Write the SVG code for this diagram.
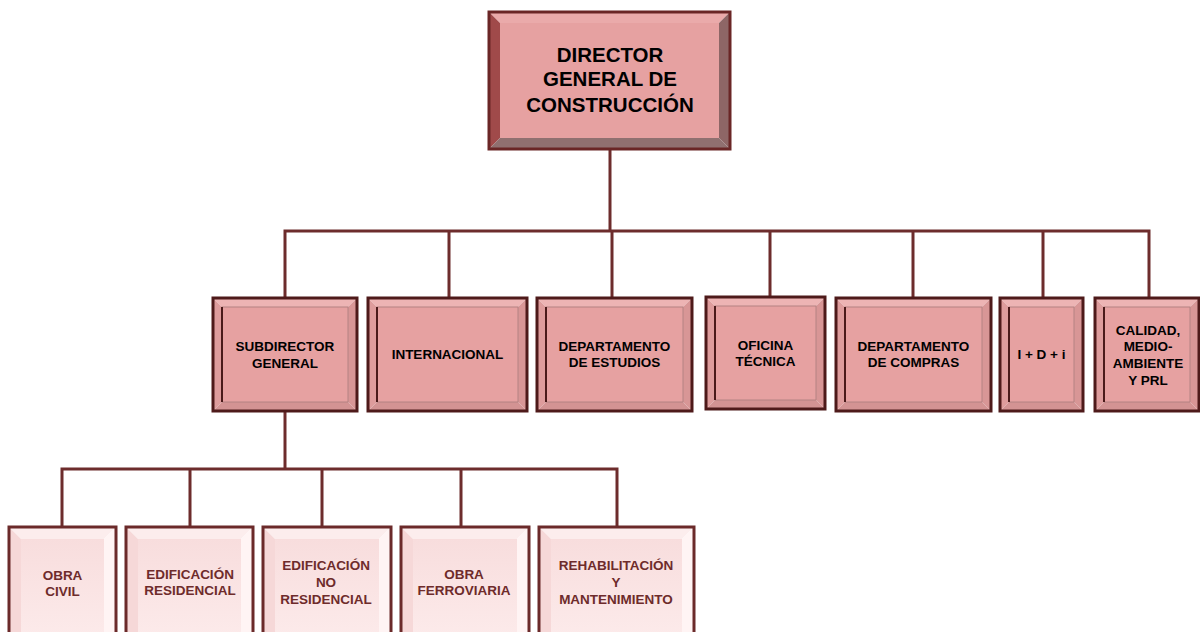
<svg xmlns="http://www.w3.org/2000/svg" width="1200" height="632" viewBox="0 0 1200 632">
  <style>
    .lbl { font-family: "Liberation Sans", Arial, sans-serif; font-weight: bold; text-anchor: middle; }
    .t1 { font-size: 20.5px; fill: #000; }
    .t2 { font-size: 13.5px; fill: #000; }
    .t3 { font-size: 13.5px; fill: #6E2B2B; }
    .conn { fill: none; stroke: #6D2C2C; stroke-width: 3; stroke-linejoin: miter; }

    /* top-level bevel box */
    .a-face { fill: #E6A1A1; }
    .a-top { fill: #EAAAAA; }
    .a-left { fill: #A04A4A; }
    .a-right { fill: #8E6666; }
    .a-bot { fill: #907070; }
    .a-edge { fill: none; stroke: #6A2626; stroke-width: 3; }

    /* second level bevel box */
    .b-face { fill: #E6A1A1; }
    .b-top { fill: #EDB4B4; }
    .b-left { fill: #DE9C9C; }
    .b-right { fill: #D89696; }
    .b-bot { fill: #D39393; }
    .b-inner { fill: none; stroke: #B48282; stroke-width: 1; }
    .b-dark { fill: none; stroke: #4A1A1A; stroke-width: 2; }
    .b-edge { fill: none; stroke: #4E1A1A; stroke-width: 3; }

    /* third level bevel box */
    .c-face { fill: url(#cFace); }
    .c-top { fill: #FCEDED; }
    .c-left { fill: #F6D8D8; }
    .c-right { fill: #FFF4F4; }
    .c-bot { fill: #FFFFFF; }
    .c-edge { fill: none; stroke: #6B2A2A; stroke-width: 3; }
  </style>
  <defs>
    <linearGradient id="cFace" x1="0" y1="0" x2="0" y2="1">
      <stop offset="0" stop-color="#F8DDDD"/>
      <stop offset="1" stop-color="#FCEAEA"/>
    </linearGradient>
  </defs>

  <rect width="1200" height="632" fill="#FFFFFF"/>

  <!-- connectors -->
  <g id="connectors">
    <path class="conn" d="M610,149 V231"/>
    <path class="conn" d="M285,298 V231 H1149 V298"/>
    <path class="conn" d="M449,231 V298 M612,231 V298 M770,231 V298 M913,231 V298 M1043,231 V298"/>
    <path class="conn" d="M285,411 V469"/>
    <path class="conn" d="M62,527 V469 H617 V527"/>
    <path class="conn" d="M190,469 V527 M322,469 V527 M461,469 V527"/>
  </g>

  <!-- top node -->
  <g id="director-general" transform="translate(489,12)">
    <polygon class="a-top" points="0,0 241,0 230,11 11,11"/>
    <polygon class="a-left" points="0,0 11,11 11,126 0,137"/>
    <polygon class="a-right" points="241,0 241,137 230,126 230,11"/>
    <polygon class="a-bot" points="0,137 241,137 230,126 11,126"/>
    <rect class="a-face" x="11" y="11" width="219" height="115"/>
    <rect class="a-edge" x="0" y="0" width="241" height="137"/>
    <text class="lbl t1" x="121" y="50">DIRECTOR</text>
    <text class="lbl t1" x="121" y="74">GENERAL DE</text>
    <text class="lbl t1" x="121" y="100">CONSTRUCCIÓN</text>
  </g>

  <!-- second level -->
  <g id="subdirector-general" transform="translate(213,298)">
    <polygon class="b-top" points="0,0 144,0 135,9 9,9"/>
    <polygon class="b-left" points="0,0 9,9 9,104 0,113"/>
    <polygon class="b-right" points="144,0 144,113 135,104 135,9"/>
    <polygon class="b-bot" points="0,113 144,113 135,104 9,104"/>
    <rect class="b-face" x="9" y="9" width="126" height="95"/>
    <rect class="b-inner" x="9" y="9" width="126" height="95"/>
    <path class="b-dark" d="M9,9 V104"/>
    <rect class="b-edge" x="0" y="0" width="144" height="113"/>
    <text class="lbl t2" x="72" y="53">SUBDIRECTOR</text>
    <text class="lbl t2" x="72" y="70">GENERAL</text>
  </g>

  <g id="internacional" transform="translate(368,298)">
    <polygon class="b-top" points="0,0 159,0 150,9 9,9"/>
    <polygon class="b-left" points="0,0 9,9 9,104 0,113"/>
    <polygon class="b-right" points="159,0 159,113 150,104 150,9"/>
    <polygon class="b-bot" points="0,113 159,113 150,104 9,104"/>
    <rect class="b-face" x="9" y="9" width="141" height="95"/>
    <rect class="b-inner" x="9" y="9" width="141" height="95"/>
    <path class="b-dark" d="M9,9 V104"/>
    <rect class="b-edge" x="0" y="0" width="159" height="113"/>
    <text class="lbl t2" x="79.5" y="61">INTERNACIONAL</text>
  </g>

  <g id="departamento-estudios" transform="translate(537,298)">
    <polygon class="b-top" points="0,0 155,0 146,9 9,9"/>
    <polygon class="b-left" points="0,0 9,9 9,104 0,113"/>
    <polygon class="b-right" points="155,0 155,113 146,104 146,9"/>
    <polygon class="b-bot" points="0,113 155,113 146,104 9,104"/>
    <rect class="b-face" x="9" y="9" width="137" height="95"/>
    <rect class="b-inner" x="9" y="9" width="137" height="95"/>
    <path class="b-dark" d="M9,9 V104"/>
    <rect class="b-edge" x="0" y="0" width="155" height="113"/>
    <text class="lbl t2" x="77.5" y="53">DEPARTAMENTO</text>
    <text class="lbl t2" x="77.5" y="69">DE ESTUDIOS</text>
  </g>

  <g id="oficina-tecnica" transform="translate(706,297)">
    <polygon class="b-top" points="0,0 119,0 110,9 9,9"/>
    <polygon class="b-left" points="0,0 9,9 9,103 0,112"/>
    <polygon class="b-right" points="119,0 119,112 110,103 110,9"/>
    <polygon class="b-bot" points="0,112 119,112 110,103 9,103"/>
    <rect class="b-face" x="9" y="9" width="101" height="94"/>
    <rect class="b-inner" x="9" y="9" width="101" height="94"/>
    <path class="b-dark" d="M9,9 V103"/>
    <rect class="b-edge" x="0" y="0" width="119" height="112"/>
    <text class="lbl t2" x="59.5" y="53">OFICINA</text>
    <text class="lbl t2" x="59.5" y="69">TÉCNICA</text>
  </g>

  <g id="departamento-compras" transform="translate(836,298)">
    <polygon class="b-top" points="0,0 155,0 146,9 9,9"/>
    <polygon class="b-left" points="0,0 9,9 9,104 0,113"/>
    <polygon class="b-right" points="155,0 155,113 146,104 146,9"/>
    <polygon class="b-bot" points="0,113 155,113 146,104 9,104"/>
    <rect class="b-face" x="9" y="9" width="137" height="95"/>
    <rect class="b-inner" x="9" y="9" width="137" height="95"/>
    <path class="b-dark" d="M9,9 V104"/>
    <rect class="b-edge" x="0" y="0" width="155" height="113"/>
    <text class="lbl t2" x="77.5" y="53">DEPARTAMENTO</text>
    <text class="lbl t2" x="77.5" y="69">DE COMPRAS</text>
  </g>

  <g id="idi" transform="translate(1000,298)">
    <polygon class="b-top" points="0,0 83,0 74,9 9,9"/>
    <polygon class="b-left" points="0,0 9,9 9,104 0,113"/>
    <polygon class="b-right" points="83,0 83,113 74,104 74,9"/>
    <polygon class="b-bot" points="0,113 83,113 74,104 9,104"/>
    <rect class="b-face" x="9" y="9" width="65" height="95"/>
    <rect class="b-inner" x="9" y="9" width="65" height="95"/>
    <path class="b-dark" d="M9,9 V104"/>
    <rect class="b-edge" x="0" y="0" width="83" height="113"/>
    <text class="lbl t2" x="41.5" y="61">I + D + i</text>
  </g>

  <g id="calidad-medioambiente-prl" transform="translate(1095,298)">
    <polygon class="b-top" points="0,0 104,0 95,9 9,9"/>
    <polygon class="b-left" points="0,0 9,9 9,104 0,113"/>
    <polygon class="b-right" points="104,0 104,113 95,104 95,9"/>
    <polygon class="b-bot" points="0,113 104,113 95,104 9,104"/>
    <rect class="b-face" x="9" y="9" width="86" height="95"/>
    <rect class="b-inner" x="9" y="9" width="86" height="95"/>
    <path class="b-dark" d="M9,9 V104"/>
    <rect class="b-edge" x="0" y="0" width="104" height="113"/>
    <text class="lbl t2" x="53" y="37">CALIDAD,</text>
    <text class="lbl t2" x="53" y="53">MEDIO-</text>
    <text class="lbl t2" x="53" y="70">AMBIENTE</text>
    <text class="lbl t2" x="53" y="87">Y PRL</text>
  </g>

  <!-- third level -->
  <g id="obra-civil" transform="translate(9,527)">
    <polygon class="c-top" points="0,0 107,0 95,12 12,12"/>
    <polygon class="c-left" points="0,0 12,12 12,108 0,120"/>
    <polygon class="c-right" points="107,0 107,120 95,108 95,12"/>
    <polygon class="c-bot" points="0,120 107,120 95,108 12,108"/>
    <rect class="c-face" x="12" y="12" width="83" height="96"/>
    <rect class="c-edge" x="0" y="0" width="107" height="120"/>
    <text class="lbl t3" x="53.5" y="53">OBRA</text>
    <text class="lbl t3" x="53.5" y="69">CIVIL</text>
  </g>

  <g id="edificacion-residencial" transform="translate(126,527)">
    <polygon class="c-top" points="0,0 127,0 115,12 12,12"/>
    <polygon class="c-left" points="0,0 12,12 12,108 0,120"/>
    <polygon class="c-right" points="127,0 127,120 115,108 115,12"/>
    <polygon class="c-bot" points="0,120 127,120 115,108 12,108"/>
    <rect class="c-face" x="12" y="12" width="103" height="96"/>
    <rect class="c-edge" x="0" y="0" width="127" height="120"/>
    <text class="lbl t3" x="64" y="52">EDIFICACIÓN</text>
    <text class="lbl t3" x="64" y="68">RESIDENCIAL</text>
  </g>

  <g id="edificacion-no-residencial" transform="translate(263,527)">
    <polygon class="c-top" points="0,0 128,0 116,12 12,12"/>
    <polygon class="c-left" points="0,0 12,12 12,108 0,120"/>
    <polygon class="c-right" points="128,0 128,120 116,108 116,12"/>
    <polygon class="c-bot" points="0,120 128,120 116,108 12,108"/>
    <rect class="c-face" x="12" y="12" width="104" height="96"/>
    <rect class="c-edge" x="0" y="0" width="128" height="120"/>
    <text class="lbl t3" x="63" y="43">EDIFICACIÓN</text>
    <text class="lbl t3" x="63" y="60">NO</text>
    <text class="lbl t3" x="63" y="77">RESIDENCIAL</text>
  </g>

  <g id="obra-ferroviaria" transform="translate(401,527)">
    <polygon class="c-top" points="0,0 128,0 116,12 12,12"/>
    <polygon class="c-left" points="0,0 12,12 12,108 0,120"/>
    <polygon class="c-right" points="128,0 128,120 116,108 116,12"/>
    <polygon class="c-bot" points="0,120 128,120 116,108 12,108"/>
    <rect class="c-face" x="12" y="12" width="104" height="96"/>
    <rect class="c-edge" x="0" y="0" width="128" height="120"/>
    <text class="lbl t3" x="63" y="52">OBRA</text>
    <text class="lbl t3" x="63" y="68">FERROVIARIA</text>
  </g>

  <g id="rehabilitacion-mantenimiento" transform="translate(539,527)">
    <polygon class="c-top" points="0,0 155,0 143,12 12,12"/>
    <polygon class="c-left" points="0,0 12,12 12,108 0,120"/>
    <polygon class="c-right" points="155,0 155,120 143,108 143,12"/>
    <polygon class="c-bot" points="0,120 155,120 143,108 12,108"/>
    <rect class="c-face" x="12" y="12" width="131" height="96"/>
    <rect class="c-edge" x="0" y="0" width="155" height="120"/>
    <text class="lbl t3" x="77" y="43">REHABILITACIÓN</text>
    <text class="lbl t3" x="77" y="60">Y</text>
    <text class="lbl t3" x="77" y="77">MANTENIMIENTO</text>
  </g>
</svg>
